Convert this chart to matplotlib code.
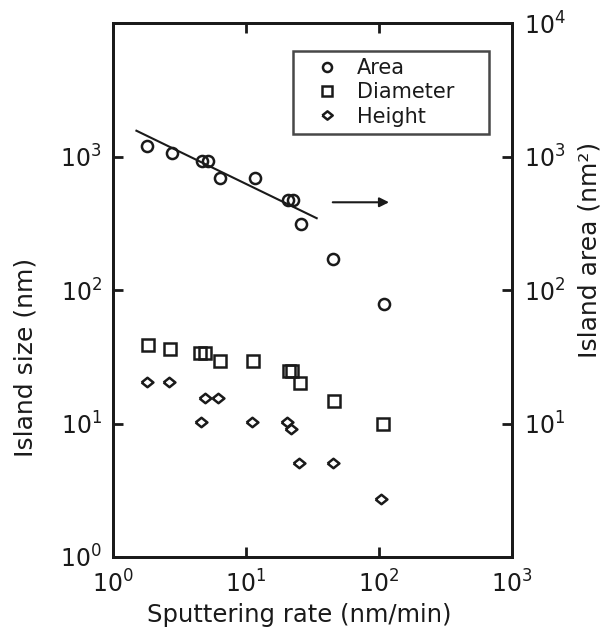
import matplotlib
matplotlib.use("Agg")
import matplotlib.pyplot as plt
from matplotlib.lines import Line2D
from matplotlib.ticker import FixedLocator, NullLocator

plt.rcParams['font.family'] = ['DejaVu Sans']
plt.rcParams['mathtext.fontset'] = 'dejavusans'

# Area (right axis, nm^2)
area_x = [1.81, 2.76, 4.69, 5.2, 6.38, 11.7, 20.8, 22.4, 25.9, 45.4, 109]
area_y = [1190, 1060, 930, 930, 690, 690, 475, 475, 312, 170, 78]

# Power-law fit line for area
fit_x = [1.5, 34]
fit_y = [1560, 345]

# Diameter (left axis, nm)
diam_x = [1.82, 2.68, 4.51, 4.92, 6.38, 11.3, 21.0, 22.0, 25.4, 45.8, 108]
diam_y = [38.7, 36.1, 34.0, 34.0, 29.2, 29.2, 24.9, 24.9, 20.0, 14.7, 9.9]

# Height (left axis, nm)
height_x = [1.79, 2.65, 4.92, 6.2, 4.58, 11.1, 20.2, 21.7, 25.0, 45.2, 104]
height_y = [20.6, 20.6, 15.5, 15.5, 10.2, 10.2, 10.2, 9.1, 5.1, 5.1, 2.7]

# arrow pointing to right axis
arrow_x = [44.9, 119]
arrow_y = 454

xticks = [1, 10, 100, 1000]
xtick_labels = ['$10^0$', '$10^1$', '$10^2$', '$10^3$']
left_ticks = [1, 10, 100, 1000]
left_labels = ['$10^0$', '$10^1$', '$10^2$', '$10^3$']
right_ticks = [10, 100, 1000, 10000]
right_labels = ['$10^1$', '$10^2$', '$10^3$', '$10^4$']

INK = '#1a1a1a'
DIAMOND = [(-1, 0), (0, 0.8), (1, 0), (0, -0.8), (-1, 0)]

fig = plt.figure(figsize=(6.06, 6.43), dpi=100)
ax = fig.add_axes([113/606, 1-557/643, (512-113)/606, (557-23)/643])
ax.set_xscale('log')
ax.set_yscale('log')
ax.set_xlim(1, 1000)
ax.set_ylim(1, 10000)
ax2 = ax.twinx()
ax2.set_yscale('log')
ax2.set_ylim(1, 10000)

mk = dict(linestyle='none', markerfacecolor='none', markeredgecolor=INK, markeredgewidth=1.8)
ax.plot(diam_x, diam_y, marker='s', markersize=8.5, **mk)
ax.plot(height_x, height_y, marker=DIAMOND, markersize=8.5, **mk)
ax2.plot(area_x, area_y, marker='o', markersize=8, **mk)
ax2.plot(fit_x, fit_y, color=INK, linewidth=1.5)
ax2.annotate('', xy=(arrow_x[1], arrow_y), xytext=(arrow_x[0], arrow_y),
             arrowprops=dict(arrowstyle='-|>', color=INK, lw=1.5,
                             mutation_scale=14, shrinkA=0, shrinkB=0))

for a in (ax, ax2):
    for s in a.spines.values():
        s.set_linewidth(2)
        s.set_color(INK)

ax.xaxis.set_major_locator(FixedLocator(xticks))
ax.set_xticklabels(xtick_labels)
ax.xaxis.set_minor_locator(NullLocator())
ax.yaxis.set_major_locator(FixedLocator(left_ticks))
ax.set_yticklabels(left_labels)
ax.yaxis.set_minor_locator(NullLocator())
ax2.yaxis.set_major_locator(FixedLocator(right_ticks))
ax2.set_yticklabels(right_labels)
ax2.yaxis.set_minor_locator(NullLocator())

ax.tick_params(axis='x', which='major', direction='in', length=7, width=2,
               labelsize=17, colors=INK, top=True, pad=10)
ax.tick_params(axis='y', which='major', direction='in', length=7, width=2,
               labelsize=17, colors=INK, pad=8)
ax2.tick_params(axis='y', which='major', direction='in', length=7, width=2,
                labelsize=17, colors=INK, pad=9)

ax.set_xlabel('Sputtering rate (nm/min)', fontsize=17.5, color=INK)
ax.xaxis.set_label_coords((299-113)/399, (557-603)/534)
ax.set_ylabel('Island size (nm)', fontsize=18, color=INK)
ax.yaxis.set_label_coords((38-113)/399, (557-357)/534)
ax2.set_ylabel('Island area (nm²)', fontsize=18, color=INK)
ax2.yaxis.set_label_coords((578-113)/399, (557-250)/534)

handles = [
    Line2D([], [], marker='o', markersize=6.5, **mk),
    Line2D([], [], marker='s', markersize=6.5, **mk),
    Line2D([], [], marker=DIAMOND, markersize=7.5, **mk),
]
leg = ax2.legend(handles, ['Area', 'Diameter', 'Height'], loc='upper left',
                 bbox_to_anchor=((293-113)/399, (557-143)/534, (489-293)/399, (143-51)/534),
                 mode='expand', fontsize=15, frameon=True,
                 fancybox=False, edgecolor=INK, handlelength=2.6,
                 handletextpad=0.1, borderpad=0.35, labelspacing=0.2, borderaxespad=0)
leg.get_frame().set_linewidth(1.8)
for t in leg.get_texts():
    t.set_color(INK)

fig.savefig('out.png', dpi=100)
